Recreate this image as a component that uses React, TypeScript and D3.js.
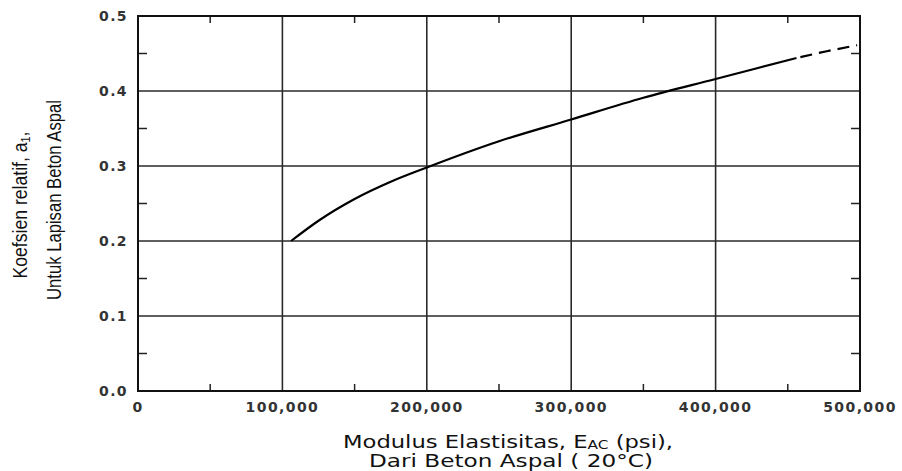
import React from "react";
import * as d3 from "d3";

const xTicks = [0, 100000, 200000, 300000, 400000, 500000];
const xTickLabels = ["0", "100,000", "200,000", "300,000", "400,000", "500,000"];
const yTicks = [0.0, 0.1, 0.2, 0.3, 0.4, 0.5];
const yTickLabels = ["0.0", "0.1", "0.2", "0.3", "0.4", "0.5"];
const xMinor = [50000, 150000, 250000, 350000, 450000];
const yMinor = [0.05, 0.15, 0.25, 0.35, 0.45];

const solidX = [106000, 125000, 150000, 175000, 200000, 250000, 300000, 350000, 400000, 456000];
const solidY = [0.2, 0.227, 0.256, 0.279, 0.298, 0.333, 0.362, 0.391, 0.416, 0.444];
const dashX = [456000, 477000, 498000];
const dashY = [0.444, 0.453, 0.461];

const W = 902, H = 471;
const L = 138, R = 860, T = 16, B = 391;

export default function App() {
  const x = d3.scaleLinear().domain([0, 500000]).range([L, R]);
  const y = d3.scaleLinear().domain([0, 0.5]).range([B, T]);
  const line = d3
    .line<[number, number]>()
    .x((d) => x(d[0]))
    .y((d) => y(d[1]))
    .curve(d3.curveMonotoneX);
  const solid = solidX.map((v, i) => [v, solidY[i]] as [number, number]);
  const dashed = dashX.map((v, i) => [v, dashY[i]] as [number, number]);
  const tickFont = "'DejaVu Sans', Verdana, sans-serif";
  const narrowFont = "'Liberation Sans', Arial, sans-serif";
  const gridColor = "#2a2a2a";
  return (
    <svg width={W} height={H} style={{ position: "absolute", left: 0, top: 0, background: "#fff" }}>
      {/* major grid */}
      {xTicks.slice(1, -1).map((t) => (
        <line key={"gx" + t} x1={x(t)} x2={x(t)} y1={T} y2={B} stroke={gridColor} strokeWidth={1.6} />
      ))}
      {yTicks.slice(1, -1).map((t) => (
        <line key={"gy" + t} x1={L} x2={R} y1={y(t)} y2={y(t)} stroke={gridColor} strokeWidth={1.5} />
      ))}
      {/* minor ticks */}
      {xMinor.map((t) => (
        <g key={"mx" + t}>
          <line x1={x(t)} x2={x(t)} y1={T} y2={T + 7} stroke="#222" strokeWidth={1.5} />
          <line x1={x(t)} x2={x(t)} y1={B} y2={B - 7} stroke="#222" strokeWidth={1.5} />
        </g>
      ))}
      {yMinor.map((t) => (
        <g key={"my" + t}>
          <line x1={L} x2={L + 9} y1={y(t)} y2={y(t)} stroke="#222" strokeWidth={1.5} />
          <line x1={R} x2={R - 9} y1={y(t)} y2={y(t)} stroke="#222" strokeWidth={1.5} />
        </g>
      ))}
      {/* frame */}
      <rect x={L} y={T} width={R - L} height={B - T} fill="none" stroke="#111" strokeWidth={2} />
      {/* curve */}
      <path d={line(solid) || ""} fill="none" stroke="#000" strokeWidth={2.2} />
      <path d={line(dashed) || ""} fill="none" stroke="#000" strokeWidth={2.2} strokeDasharray="12,7" strokeDashoffset={-4} />
      {/* tick labels */}
      {xTicks.map((t, i) => (
        <text key={"xl" + t} x={x(t)} y={412} textAnchor="middle" fontFamily={tickFont} fontWeight="bold" fontSize={14} letterSpacing={1.4} fill="#333">
          {xTickLabels[i]}
        </text>
      ))}
      {yTicks.map((t, i) => (
        <text key={"yl" + t} x={128} y={y(t) + 5} textAnchor="end" fontFamily={tickFont} fontWeight="bold" fontSize={14} letterSpacing={1.4} fill="#333">
          {yTickLabels[i]}
        </text>
      ))}
      {/* x title */}
      <text x={508} y={447.5} textAnchor="middle" fontFamily={tickFont} fontSize={18.5} textLength={330} lengthAdjust="spacingAndGlyphs" fill="#111">
        Modulus Elastisitas, E<tspan fontSize={12.5} dy={1.5}>AC</tspan>
        <tspan dy={-1.5}> (psi),</tspan>
      </text>
      <text x={511} y={467} textAnchor="middle" fontFamily={tickFont} fontSize={18.5} textLength={284} lengthAdjust="spacingAndGlyphs" fill="#111">
        Dari Beton Aspal ( 20°C)
      </text>
      {/* y title */}
      <g transform="translate(27,205) rotate(-90)">
        <text x={0} y={0} textAnchor="middle" fontFamily={narrowFont} fontSize={21} textLength={147} lengthAdjust="spacingAndGlyphs" fill="#111">
          Koefsien relatif, a<tspan fontSize={13} dy={3}>1</tspan>
          <tspan dy={-3}>,</tspan>
        </text>
      </g>
      <g transform="translate(61,200) rotate(-90)">
        <text x={0} y={0} textAnchor="middle" fontFamily={narrowFont} fontSize={21} textLength={200} lengthAdjust="spacingAndGlyphs" fill="#111">
          Untuk Lapisan Beton Aspal
        </text>
      </g>
    </svg>
  );
}
